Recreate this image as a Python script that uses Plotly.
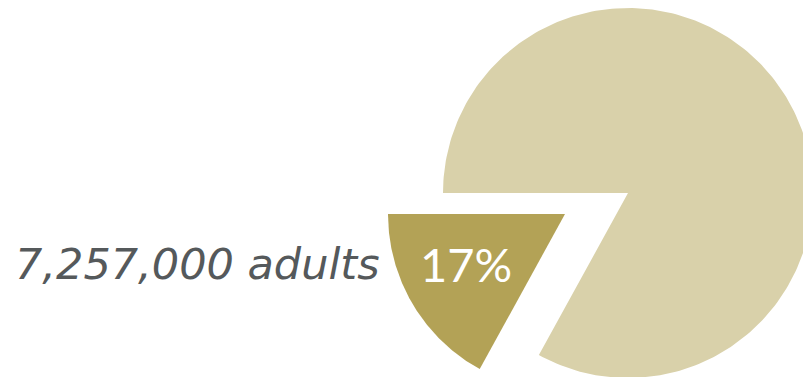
import numpy as np
import plotly.graph_objects as go

# Data
segment_labels = ["Adults in group", "Everyone else"]
segment_shares = [17, 83]          # percent of the population
adults_in_group = 7257000

# Colours
slice_colors = ["#B3A256", "#D9D1AA"]
label_color = "#55595B"

W, H = 803, 377

# Pie geometry (figure pixels, y measured downward)
main_center = (628, 193)
main_radius = 185
pulled_center = (565, 214)
pulled_radius = 177


def wedge(center, radius, start_deg, end_deg, n=240):
    # Angles measured from the 9 o'clock direction, sweeping downward
    t = np.radians(np.linspace(start_deg, end_deg, n))
    xs = center[0] - radius * np.cos(t)
    ys = center[1] + radius * np.sin(t)
    return (np.concatenate([[center[0]], xs, [center[0]]]),
            np.concatenate([[center[1]], ys, [center[1]]]))


total = float(sum(segment_shares))
sweep = [s / total * 360.0 for s in segment_shares]

fig = go.Figure()

# Remaining share: stays in place
x_big, y_big = wedge(main_center, main_radius, sweep[0], 360.0)
fig.add_trace(go.Scatter(x=x_big, y=y_big, mode="lines", fill="toself",
                         fillcolor=slice_colors[1], line=dict(width=0),
                         hoverinfo="skip", showlegend=False))

# Highlighted share: pulled out from the pie
x_small, y_small = wedge(pulled_center, pulled_radius, 0.0, sweep[0])
fig.add_trace(go.Scatter(x=x_small, y=y_small, mode="lines", fill="toself",
                         fillcolor=slice_colors[0], line=dict(width=0),
                         hoverinfo="skip", showlegend=False))

fig.add_annotation(x=466, y=264, xref="x", yref="y",
                   text=f"{segment_shares[0]}%", showarrow=False,
                   font=dict(family="Lato", size=47, color="white"))

fig.add_annotation(x=382, y=264, xref="x", yref="y", xanchor="right",
                   text=f"{adults_in_group:,} adults", showarrow=False,
                   font=dict(family="DejaVu Sans", size=43, style="italic",
                             color=label_color))

fig.update_xaxes(range=[0, W], visible=False, fixedrange=True)
fig.update_yaxes(range=[H, 0], visible=False, fixedrange=True)
fig.update_layout(width=W, height=H, margin=dict(l=0, r=0, t=0, b=0),
                  paper_bgcolor="white", plot_bgcolor="white")

fig.write_html("out.html")
